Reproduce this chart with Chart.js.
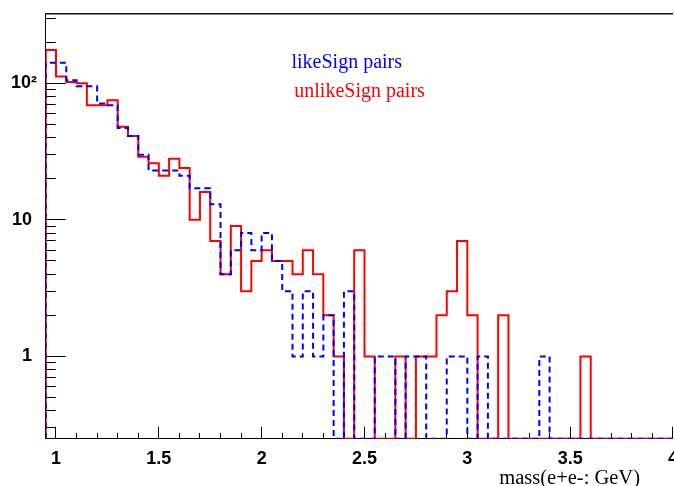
<!DOCTYPE html>
<html>
<head>
<meta charset="utf-8">
<script src="https://cdn.jsdelivr.net/npm/chart.js@4/dist/chart.umd.min.js"></script>
<style>
html,body{margin:0;padding:0;background:#fff;overflow:hidden;width:674px;height:486px}
canvas{display:block}
</style>
</head>
<body>
<canvas id="c" width="700" height="486"></canvas>
<script>
// ---- data ----
const MASS_MIN = 0.95;       // lower edge of first bin (GeV)
const BIN_WIDTH = 0.05;      // bin width (GeV)
const likeSign = [141, 141, 105, 95, 95, 71, 69, 47, 41, 30,
                  23, 23, 23, 21, 17, 17, 13, 4, 6, 8,
                  6, 8, 5, 3, 1, 3, 1, 2, 0, 3,
                  0, 0, 1, 1, 0, 1, 1, 0, 0, 1,
                  1, 0, 1, 0, 0, 0, 0, 0, 1, 0,
                  0, 0, 0, 0, 0, 0, 0, 0, 0, 0, 0];
const unlikeSign = [175, 112, 102, 100, 69, 69, 75, 48, 41, 29,
                    26, 21, 28, 24, 10, 16, 7, 4, 9, 3,
                    5, 6, 5, 5, 4, 6, 4, 2, 1, 0,
                    6, 1, 0, 0, 1, 0, 1, 1, 2, 3,
                    7, 2, 0, 0, 2, 0, 0, 0, 0, 0,
                    0, 0, 1, 0, 0, 0, 0, 0, 0, 0, 0];
const seriesLabels = ['likeSign pairs', 'unlikeSign pairs'];
const xMajorTicks = [1, 1.5, 2, 2.5, 3, 3.5, 4];
const xMinorTicks = [1.1, 1.2, 1.3, 1.4, 1.6, 1.7, 1.8, 1.9, 2.1, 2.2, 2.3, 2.4,
                     2.6, 2.7, 2.8, 2.9, 3.1, 3.2, 3.3, 3.4, 3.6, 3.7, 3.8, 3.9];
const yMajorTicks = [1, 10, 100];
const yTickLabels = ['1 ', '10 ', '10\u00B2'];
const yMinorTicks = [0.3, 0.4, 0.5, 0.6, 0.7, 0.8, 0.9,
                     2, 3, 4, 5, 6, 7, 8, 9,
                     20, 30, 40, 50, 60, 70, 80, 90,
                     200, 300];
const xTitle = 'mass(e+e-: GeV)';

// ---- layout / style ----
const Y_MIN = 0.25, Y_MAX = 321;
const X_MAX = 4.0;

function histPoints(values) {
  const n = values.length;
  const edges = [];
  for (let i = 0; i <= n; i++) edges.push(+(MASS_MIN + i * BIN_WIDTH).toFixed(4));
  const yv = v => (v > 0 ? v : Y_MIN);   // empty bins sit on the frame bottom, like ROOT
  const pts = [{x: edges[0], y: Y_MIN}];
  values.forEach((v, i) => pts.push({x: edges[i], y: yv(v)}));
  pts.push({x: edges[n], y: yv(values[n - 1])});
  pts.push({x: edges[n], y: Y_MIN});
  return pts;
}

const isIn = (arr, v) => arr.some(a => Math.abs(a - v) < 1e-9);

const textPlugin = {
  id: 'rootTexts',
  afterDatasetsDraw(chart, args, opts) {
    const ctx = chart.ctx;
    ctx.save();
    ctx.textAlign = 'left';
    ctx.textBaseline = 'alphabetic';
    ctx.font = '20px "Liberation Serif", "Times New Roman", serif';
    chart.data.datasets.forEach((ds, i) => {
      const p = opts.legend[i];
      ctx.fillStyle = ds.borderColor;
      ctx.fillText(ds.label, p.x, p.y);
    });
    ctx.font = '20.5px "Liberation Serif", "Times New Roman", serif';
    ctx.fillStyle = '#000';
    ctx.textAlign = 'right';
    ctx.fillText(xTitle, opts.title.x, opts.title.y);
    ctx.restore();
  }
};

const tickFont = {family: '"Liberation Sans", Arial, Helvetica, sans-serif', size: 18, weight: 'bold'};

new Chart(document.getElementById('c'), {
  type: 'line',
  data: {
    datasets: [
      {label: seriesLabels[0], data: histPoints(likeSign), borderColor: '#0000ff',
       borderWidth: 2, borderDash: [6, 4], stepped: 'before', pointRadius: 0,
       fill: false, order: 0, xAxisID: 'x', yAxisID: 'y'},
      {label: seriesLabels[1], data: histPoints(unlikeSign), borderColor: '#ff0000',
       borderWidth: 2, stepped: 'before', pointRadius: 0,
       fill: false, order: 1, xAxisID: 'x', yAxisID: 'y'}
    ]
  },
  options: {
    responsive: false,
    animation: false,
    events: [],
    layout: {padding: {left: 0, top: 14, right: 24, bottom: 0}},
    plugins: {
      legend: {display: false},
      tooltip: {enabled: false},
      rootTexts: {
        legend: [{x: 291.5, y: 67.5}, {x: 294.3, y: 96.5}],
        title: {x: 640, y: 484}
      }
    },
    scales: {
      x: {
        type: 'linear', position: 'bottom', min: MASS_MIN, max: X_MAX,
        afterBuildTicks: s => {
          s.ticks = xMajorTicks.concat(xMinorTicks).sort((a, b) => a - b).map(v => ({value: v}));
        },
        afterFit: s => { s.height = 47.3; s.paddingLeft = 0; },
        ticks: {
          autoSkip: false, maxRotation: 0, minRotation: 0, padding: 22,
          color: '#000', font: tickFont,
          callback: v => (isIn(xMajorTicks, v) ? String(v) : '')
        },
        grid: {
          drawOnChartArea: false, drawTicks: true, tickLength: -12,
          tickColor: '#000', tickWidth: 1,
          tickBorderDash: c => (c.tick && isIn(xMajorTicks, c.tick.value) ? [] : [6, 100])
        },
        border: {display: true, color: '#000', width: 1}
      },
      xTop: {
        type: 'linear', position: 'top', min: MASS_MIN, max: X_MAX,
        afterFit: s => { s.height = 0; s.paddingLeft = 0; s.paddingRight = 0; },
        ticks: {display: false},
        grid: {display: false},
        border: {display: true, color: '#111', width: 1.5}
      },
      y: {
        type: 'logarithmic', position: 'left', min: Y_MIN, max: Y_MAX,
        afterBuildTicks: s => {
          s.ticks = yMajorTicks.concat(yMinorTicks).sort((a, b) => a - b).map(v => ({value: v}));
        },
        afterFit: s => { s.width = 45.7; s.paddingTop = 0; s.paddingBottom = 0; },
        ticks: {
          autoSkip: false, padding: 28.7, color: '#000', font: tickFont,
          callback: v => {
            const k = yMajorTicks.findIndex(a => Math.abs(a - v) < 1e-9);
            return k >= 0 ? yTickLabels[k] : '';
          }
        },
        grid: {
          drawOnChartArea: false, drawTicks: true, tickLength: -20,
          tickColor: '#000', tickWidth: 1,
          tickBorderDash: c => (c.tick && isIn(yMajorTicks, c.tick.value) ? [] : [0, 10, 11, 100])
        },
        border: {display: true, color: '#000', width: 1}
      }
    }
  },
  plugins: [textPlugin]
});
</script>
</body>
</html>
